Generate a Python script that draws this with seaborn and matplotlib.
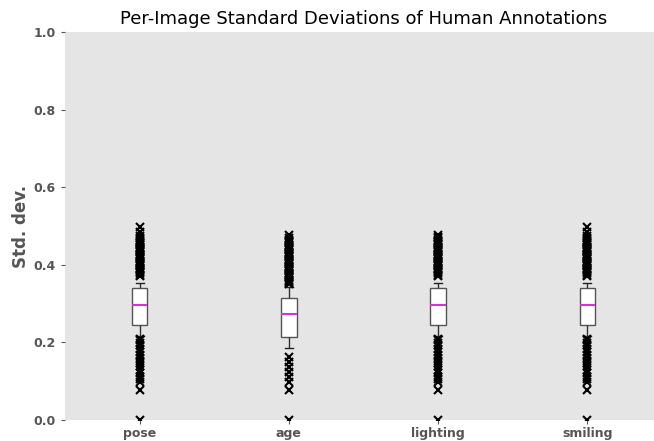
import numpy as np
import pandas as pd
import matplotlib
matplotlib.use("Agg")
import matplotlib.pyplot as plt
import seaborn as sns

categories = ["pose", "age", "lighting", "smiling"]

# Per-image std. dev. levels of the bulk of the images and how many images sit at each level
pose_levels = [0.217, 0.245, 0.270, 0.296, 0.320, 0.341, 0.354]
pose_counts = [20, 200, 100, 200, 100, 200, 20]
pose_low = [0.0, 0.077, 0.098, 0.105, 0.112, 0.122, 0.129, 0.139,
            0.146, 0.153, 0.159, 0.168, 0.176, 0.184,
            0.193, 0.199, 0.205, 0.208]
pose_high = [0.372, 0.375, 0.378, 0.381, 0.384, 0.387, 0.390, 0.393, 0.396, 0.399,
             0.402, 0.405, 0.408, 0.411, 0.414, 0.417, 0.420, 0.423, 0.426, 0.429,
             0.432, 0.435, 0.438, 0.441, 0.444, 0.447, 0.450, 0.453, 0.456, 0.459,
             0.462, 0.465, 0.468, 0.474, 0.485, 0.497]

age_levels = [0.186, 0.215, 0.245, 0.273, 0.295, 0.314, 0.343]
age_counts = [20, 200, 100, 200, 100, 200, 20]
age_low = [0.0, 0.077, 0.098, 0.111, 0.124, 0.137, 0.150, 0.163]
age_high = [0.350, 0.353, 0.356, 0.359, 0.362, 0.365, 0.368, 0.371, 0.374, 0.377,
            0.380, 0.383, 0.386, 0.389, 0.392, 0.395, 0.398, 0.401, 0.404, 0.407,
            0.410, 0.413, 0.416, 0.419, 0.422, 0.425, 0.428, 0.431, 0.434, 0.437,
            0.440, 0.443, 0.446, 0.449, 0.452, 0.455, 0.458, 0.461, 0.464, 0.470,
            0.477]

lighting_levels = [0.217, 0.245, 0.270, 0.296, 0.320, 0.341, 0.354]
lighting_counts = [20, 200, 100, 200, 100, 200, 20]
lighting_low = [0.0, 0.077, 0.098, 0.105, 0.112, 0.122, 0.129, 0.139,
                0.146, 0.153, 0.159, 0.168, 0.176, 0.184,
                0.193, 0.199, 0.205, 0.208]
lighting_high = [0.372, 0.375, 0.378, 0.381, 0.384, 0.387, 0.390, 0.393, 0.396, 0.399,
                 0.402, 0.405, 0.408, 0.411, 0.414, 0.417, 0.420, 0.423, 0.426, 0.429,
                 0.432, 0.435, 0.438, 0.441, 0.444, 0.447, 0.450, 0.453, 0.456, 0.459,
                 0.462, 0.465, 0.468, 0.472, 0.477]

smiling_levels = [0.217, 0.245, 0.270, 0.296, 0.320, 0.341, 0.354]
smiling_counts = [20, 200, 100, 200, 100, 200, 20]
smiling_low = [0.0, 0.077, 0.098, 0.105, 0.112, 0.122, 0.129, 0.139,
               0.146, 0.153, 0.159, 0.168, 0.176, 0.184,
               0.193, 0.199, 0.205, 0.208]
smiling_high = [0.372, 0.375, 0.378, 0.381, 0.384, 0.387, 0.390, 0.393, 0.396, 0.399,
                0.402, 0.405, 0.408, 0.411, 0.414, 0.417, 0.420, 0.423, 0.426, 0.429,
                0.432, 0.435, 0.438, 0.441, 0.444, 0.447, 0.450, 0.453, 0.456, 0.459,
                0.462, 0.465, 0.468, 0.474, 0.485, 0.497]

y_ticks = [0.0, 0.2, 0.4, 0.6, 0.8, 1.0]

groups = {
    "pose": (pose_levels, pose_counts, pose_low, pose_high),
    "age": (age_levels, age_counts, age_low, age_high),
    "lighting": (lighting_levels, lighting_counts, lighting_low, lighting_high),
    "smiling": (smiling_levels, smiling_counts, smiling_low, smiling_high),
}

rows = []
for name in categories:
    levels, counts, low, high = groups[name]
    vals = list(low) + list(np.repeat(levels, counts)) + list(high)
    rows.append(pd.DataFrame({"attribute": name, "std": vals}))
df = pd.concat(rows, ignore_index=True)

plt.rcParams["font.family"] = ["DejaVu Sans"]

fig = plt.figure(figsize=(6.54, 4.41), dpi=100)
ax = fig.add_axes([65 / 654, 21 / 441, 597 / 654, 388 / 441])
ax.set_facecolor("#E5E5E5")

sns.boxplot(
    data=df, x="attribute", y="std", order=categories, ax=ax,
    color="white", width=0.105, whis=0.3, linecolor="#555555", linewidth=1.0,
    boxprops=dict(facecolor="white", edgecolor="#555555"),
    whiskerprops=dict(color="#333333"),
    capprops=dict(color="#222222"),
    medianprops=dict(color="#d633d6", linewidth=1.5),
    flierprops=dict(marker="x", markersize=6, markeredgecolor="black",
                    markerfacecolor="black", markeredgewidth=1.5),
)

# fliers sitting on the bottom edge are cut by the plotting area
for line in ax.lines:
    line.set_clip_on(True)
    line.set_clip_box(ax.bbox)

ax.set_xlim(-0.5, 3.5)
ax.set_ylim(0, 1.0)
ax.set_yticks(y_ticks)
ax.set_yticklabels([f"{t:.1f}" for t in y_ticks])
ax.grid(False)
for s in ax.spines.values():
    s.set_visible(False)

ax.tick_params(axis="both", colors="#555555", labelsize=9, length=3, width=0.8)
ax.tick_params(axis="x", pad=2)
for lab in ax.get_xticklabels() + ax.get_yticklabels():
    lab.set_fontweight("bold")
    lab.set_color("#555555")

ax.set_xlabel("")
ax.set_ylabel("Std. dev.", fontsize=12, fontweight="bold", color="#555555", labelpad=3)
ax.set_title("Per-Image Standard Deviations of Human Annotations", fontsize=13, pad=6)

fig.savefig("out.png", dpi=100)
